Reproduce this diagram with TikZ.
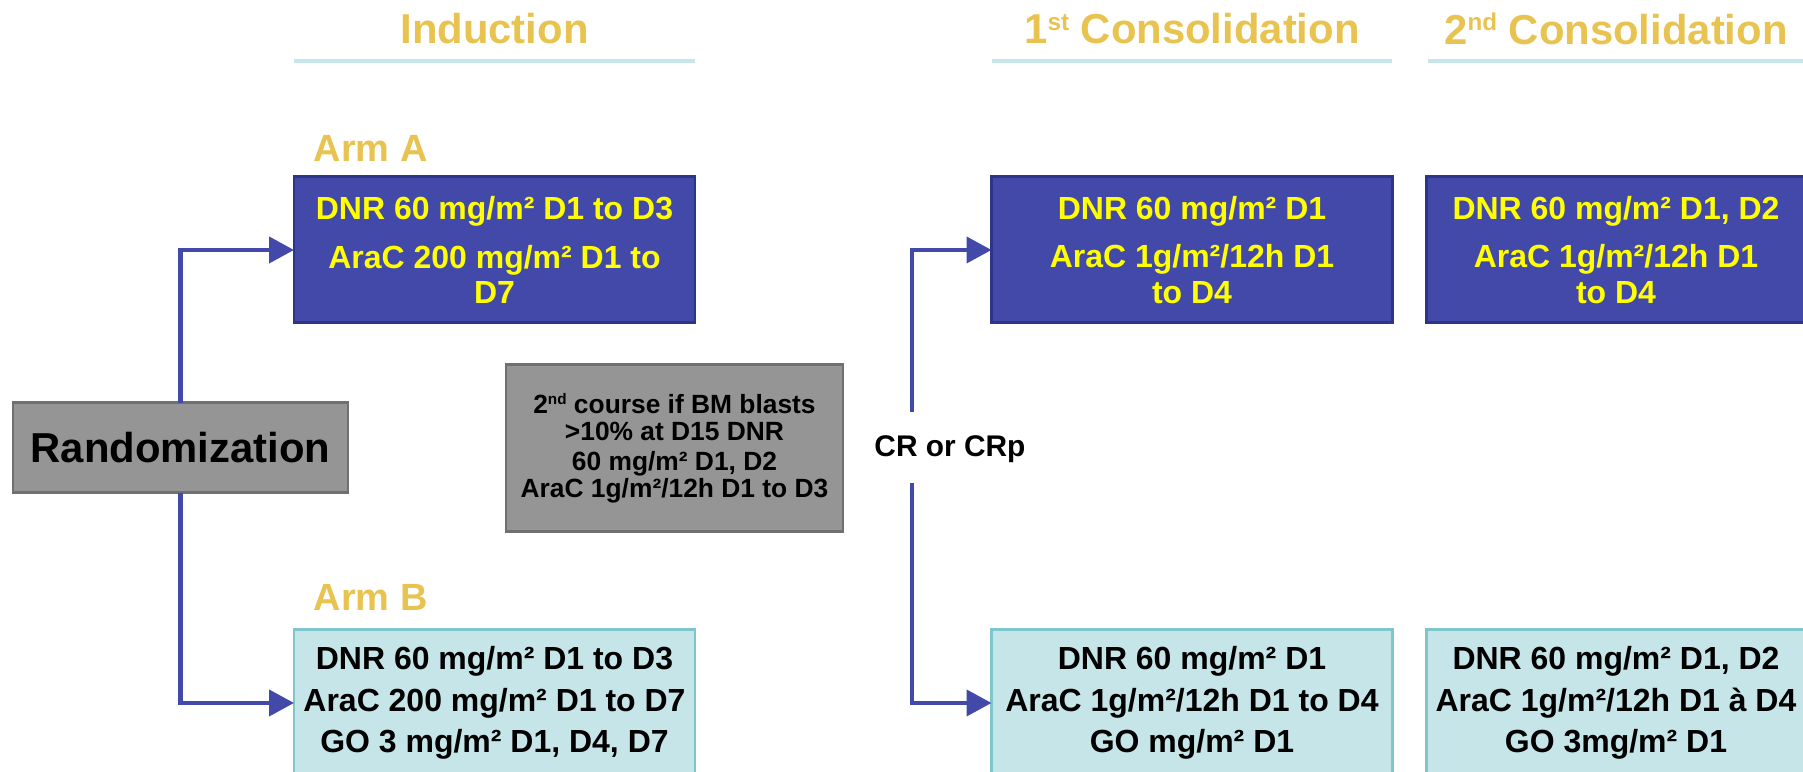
\documentclass[tikz,border=0pt]{standalone}
\usepackage{fontspec}
\setmainfont{Liberation Sans}
\usetikzlibrary{positioning,arrows.meta}
\definecolor{armblue}{RGB}{67,73,169}
\definecolor{armblueedge}{RGB}{47,53,134}
\definecolor{armcyan}{RGB}{197,229,232}
\definecolor{armcyanedge}{RGB}{126,198,204}
\definecolor{phasegold}{RGB}{233,195,80}
\definecolor{ruleblue}{RGB}{198,230,234}
\definecolor{notegray}{RGB}{149,149,149}
\definecolor{notegrayedge}{RGB}{112,112,112}
\definecolor{doseyellow}{RGB}{255,255,0}
\newcommand{\ordsup}[1]{\raisebox{0.33em}{\scalebox{0.58}{#1}}}

\begin{document}
\begin{tikzpicture}[
  flow/.style={draw=armblue,line width=1.2pt,-{Triangle[length=2.5mm,width=2.6mm]}},
  phase/.style={text=phasegold,font=\bfseries\fontsize{11.9}{13}\selectfont},
  phaserule/.style={draw=ruleblue,line width=1pt},
  armlabel/.style={text=phasegold,anchor=west,inner sep=0pt,font=\bfseries\fontsize{10.8}{12}\selectfont},
  bluebox/.style={draw=armblueedge,fill=armblue,line width=0.85pt,text=doseyellow,
    minimum width=4.01cm,minimum height=1.46cm,inner xsep=1pt,outer sep=0pt,align=center,
    font=\bfseries\fontsize{9.1}{10}\selectfont},
  cyanbox/.style={bluebox,draw=armcyanedge,fill=armcyan,text=black,
    font=\bfseries\fontsize{9.1}{11.8}\selectfont},
  graybox/.style={draw=notegrayedge,fill=notegray,line width=0.85pt,outer sep=0pt,align=center}
]
  \useasboundingbox (0,0) rectangle (18.03,7.72);
  % phase headings with their rules
  \node[phase] (hInd) at (4.945,7.43) {Induction};
  \node[phase] (hCons1) at (11.92,7.43) {1\ordsup{st} Consolidation};
  \node[phase] (hCons2) at (16.16,7.43) {2\ordsup{nd} Consolidation};
  \draw[phaserule] (2.94,7.11) -- (6.95,7.11);
  \draw[phaserule] (9.92,7.11) -- (13.92,7.11);
  \draw[phaserule] (14.28,7.11) -- (18.10,7.11);
  % induction arms
  \node[armlabel] (labA) at (3.13,6.24) {Arm A};
  \node[armlabel] (labB) at (3.13,1.75) {Arm B};
  \node[bluebox] (armA) at (4.945,5.22)
    {DNR 60 mg/m² D1 to D3\\[3.7pt] AraC 200 mg/m² D1 to\\ D7};
  \node[cyanbox] (armB) at (4.945,0.69)
    {DNR 60 mg/m² D1 to D3\\ AraC 200 mg/m² D1 to D7\\ GO 3 mg/m² D1, D4, D7};
  % randomization and second course note
  \node[graybox,minimum width=3.35cm,minimum height=0.9cm,
    font=\bfseries\fontsize{11.9}{13}\selectfont] (rand) at (1.805,3.24) {Randomization};
  \node[graybox,minimum width=3.37cm,minimum height=1.67cm,
    font=\bfseries\fontsize{7.5}{7.7}\selectfont] (note) at (6.745,3.235)
    {2\ordsup{nd} course if BM blasts\\ >10\% at D15 DNR\\[0.9pt] 60 mg/m² D1, D2\\ AraC 1g/m²/12h D1 to D3};
  % consolidation courses
  \node[bluebox] (cons1A) at (11.92,5.22)
    {DNR 60 mg/m² D1\\[3.7pt] AraC 1g/m²/12h D1\\ to D4};
  \node[cyanbox] (cons1B) at (11.92,0.69)
    {DNR 60 mg/m² D1\\ AraC 1g/m²/12h D1 to D4\\ GO mg/m² D1};
  \node[bluebox,minimum width=3.8cm] (cons2A) at (16.16,5.22)
    {DNR 60 mg/m² D1, D2\\[3.7pt] AraC 1g/m²/12h D1\\ to D4};
  \node[cyanbox,minimum width=3.8cm] (cons2B) at (16.16,0.69)
    {DNR 60 mg/m² D1, D2\\ AraC 1g/m²/12h D1 à D4\\ GO 3mg/m² D1};
  % response split
  \node[font=\bfseries\fontsize{8.5}{10}\selectfont] (cr) at (9.50,3.23) {CR or CRp};
  \coordinate (crtop) at (9.12,3.60);
  \coordinate (crbot) at (9.12,2.89);
  % connectors
  \draw[flow] (rand.north) |- (armA.west);
  \draw[flow] (rand.south) |- (armB.west);
  \draw[flow] (crtop) |- (cons1A.west);
  \draw[flow] (crbot) |- (cons1B.west);
\end{tikzpicture}
\end{document}
